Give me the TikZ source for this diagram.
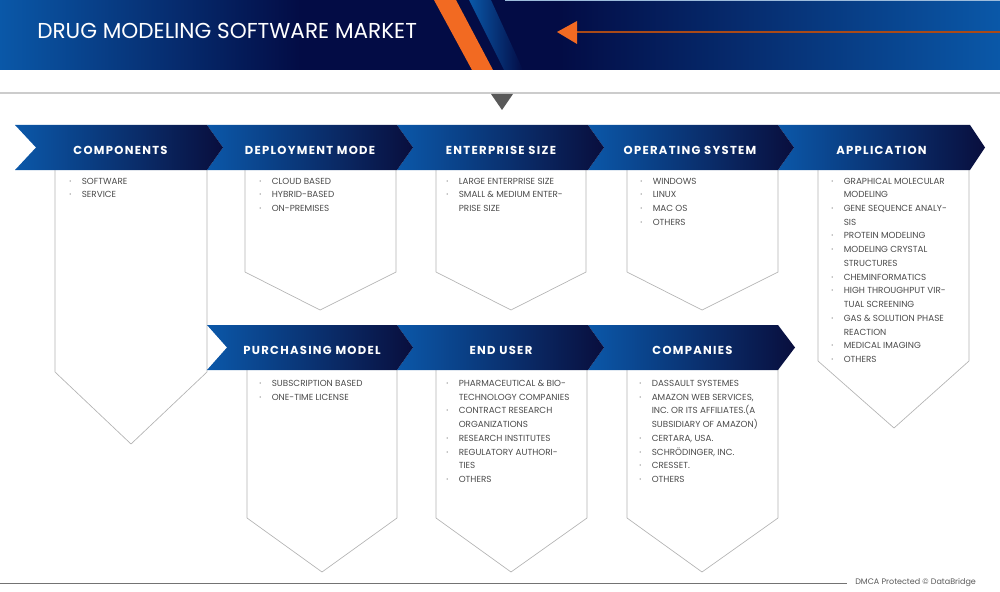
\documentclass[tikz,border=0pt]{standalone}
\usepackage{fontspec}
\setmainfont{Poppins}
\newfontfamily\headfont{Poppins}[LetterSpace=11]
\usetikzlibrary{calc}
\definecolor{hblue}{HTML}{0A58A8}
\definecolor{hnavy}{HTML}{030C45}
\definecolor{cblue}{HTML}{0B58A9}
\definecolor{cnavy}{HTML}{090E3D}
\definecolor{orng}{HTML}{F26A22}
\definecolor{boxgray}{HTML}{B3B3B3}
\definecolor{txtgray}{HTML}{4A4A4A}
\newcommand\chevshape[5]{% L R T notch tip
  \shade[left color=cblue, right color=cnavy]
    (#1,#3) -- (#2,#3) -- (#2+#5,#3+22.5) -- (#2,#3+45) -- (#1,#3+45) -- (#1+#4,#3+22.5) -- cycle;}
\newcommand\itm[1]{\textperiodcentered & #1\\}
\newcommand\cnt[1]{& #1\\}
\newenvironment{blist}{\fontsize{6.6}{10.3}\selectfont\renewcommand{\arraystretch}{1}\begin{tabular}[t]{@{}p{9.4pt}@{}l@{}}}{\end{tabular}}
\begin{document}
\begin{tikzpicture}[x=0.75pt,y=-0.75pt,
  boxline/.style={draw=boxgray, line width=0.5pt},
  listtext/.style={anchor=base west, inner sep=0pt, text=txtgray},
  chevlabel/.style={anchor=base, inner sep=0pt, text=white, font=\headfont\bfseries\fontsize{8.7}{10}\selectfont}]
\useasboundingbox (0,0) rectangle (1000,592);
% header band
\shade[left color=hblue, right color=hnavy] (0,0) rectangle (300,70);
\fill[hnavy] (299,0) rectangle (561,70);
\shade[left color=hnavy, right color=hblue] (560,0) rectangle (1000,70);
\draw[color=white!60!hblue, line width=0.6pt] (505,0.5) -- (1000,0.5);
\fill[orng] (434,0) -- (456,0) -- (493,70) -- (472,70) -- cycle;
\shade[left color=hblue, right color=hnavy] (469,0) -- (491,0) -- (523,70) -- (504,70) -- cycle;
\coordinate (arrtip) at (557,32);
\coordinate (arrend) at (1000,32);
\draw[color=orng!70!black, line width=0.8pt] (577,32) -- (arrend);
\fill[orng] (arrtip) -- (577,21) -- (577,44) -- cycle;
\node[anchor=base west, inner sep=0pt, text=white, font=\fontsize{16.2}{19}\selectfont] (title) at (37,39) {DRUG MODELING SOFTWARE MARKET};
% separator line and marker
\draw[color=black!20, line width=0.8pt] (0,93) -- (1000,93);
\fill[black!65] (491,94) -- (513,94) -- (502,110) -- cycle;
% boxes
\draw[boxline] (55,169) -- (55,372) -- (131,444) -- (207,372) -- (207,169);
\draw[boxline] (245,169) -- (245,272) -- (320,310) -- (396,272) -- (396,169);
\draw[boxline] (436,169) -- (436,272) -- (511,310) -- (586,272) -- (586,169);
\draw[boxline] (627,169) -- (627,272) -- (702,310) -- (778,272) -- (778,169);
\draw[boxline] (818,169) -- (818,361) -- (894,428) -- (969,361) -- (969,169);
\draw[boxline] (247,369) -- (247,518) -- (322,572) -- (397,518) -- (397,369);
\draw[boxline] (436,369) -- (436,518) -- (511,572) -- (587,518) -- (587,369);
\draw[boxline] (627,369) -- (627,518) -- (702,572) -- (778,518) -- (778,369);
% chevrons row 1 (right to left so tips overlap)
\chevshape{778}{970}{125}{16}{15}
\chevshape{588}{778}{125}{16}{16}
\chevshape{397}{588}{125}{16}{16}
\chevshape{207}{397}{125}{16}{16}
\chevshape{15}{207}{125}{21}{16}
% chevrons row 2
\chevshape{588}{778}{325}{16}{17}
\chevshape{397}{588}{325}{16}{16}
\chevshape{207}{397}{325}{20}{16}
% labels
\node[chevlabel] (lcomp) at (120.5,154) {COMPONENTS};
\node[chevlabel] (ldep) at (310,154) {DEPLOYMENT MODE};
\node[chevlabel] (lent) at (501,154) {ENTERPRISE SIZE};
\node[chevlabel] (los) at (690,154) {OPERATING SYSTEM};
\node[chevlabel] (lapp) at (881.5,154) {APPLICATION};
\node[chevlabel] (lpur) at (312,354) {PURCHASING MODEL};
\node[chevlabel] (lend) at (501,354) {END USER};
\node[chevlabel] (lcom) at (692.5,354) {COMPANIES};
% lists
\node[listtext] (tcomp) at (69,184) {\begin{blist}\itm{SOFTWARE}\itm{SERVICE}\end{blist}};
\node[listtext] (tdep) at (259,184) {\begin{blist}\itm{CLOUD BASED}\itm{HYBRID-BASED}\itm{ON-PREMISES}\end{blist}};
\node[listtext] (tent) at (446,184) {\begin{blist}\itm{LARGE ENTERPRISE SIZE}\itm{SMALL \& MEDIUM ENTER-}\cnt{PRISE SIZE}\end{blist}};
\node[listtext] (tos) at (640,184) {\begin{blist}\itm{WINDOWS}\itm{LINUX}\itm{MAC OS}\itm{OTHERS}\end{blist}};
\node[listtext] (tapp) at (831,184) {\begin{blist}\itm{GRAPHICAL MOLECULAR}\cnt{MODELING}\itm{GENE SEQUENCE ANALY-}\cnt{SIS}\itm{PROTEIN MODELING}\itm{MODELING CRYSTAL}\cnt{STRUCTURES}\itm{CHEMINFORMATICS}\itm{HIGH THROUGHPUT VIR-}\cnt{TUAL SCREENING}\itm{GAS \& SOLUTION PHASE}\cnt{REACTION}\itm{MEDICAL IMAGING}\itm{OTHERS}\end{blist}};
\node[listtext] (tpur) at (259,386.5) {\begin{blist}\itm{SUBSCRIPTION BASED}\itm{ONE-TIME LICENSE}\end{blist}};
\node[listtext] (tend) at (446,386.5) {\begin{blist}\itm{PHARMACEUTICAL \& BIO-}\cnt{TECHNOLOGY COMPANIES}\itm{CONTRACT RESEARCH}\cnt{ORGANIZATIONS}\itm{RESEARCH INSTITUTES}\itm{REGULATORY AUTHORI-}\cnt{TIES}\itm{OTHERS}\end{blist}};
\node[listtext] (tcom) at (639,386.5) {\begin{blist}\itm{DASSAULT SYSTEMES}\itm{AMAZON WEB SERVICES,}\cnt{INC. OR ITS AFFILIATES.(A}\cnt{SUBSIDIARY OF AMAZON)}\itm{CERTARA, USA.}\itm{SCHRÖDINGER, INC.}\itm{CRESSET.}\itm{OTHERS}\end{blist}};
% footer
\coordinate (fl) at (0,583);
\coordinate (fr) at (847,583);
\draw[color=black!55, line width=0.6pt] (fl) -- (fr);
\node[anchor=west, inner sep=0pt, text=black!65, font=\fontsize{6}{7}\selectfont] (dmca) at (855,583) {DMCA Protected © DataBridge};
\end{tikzpicture}
\end{document}
